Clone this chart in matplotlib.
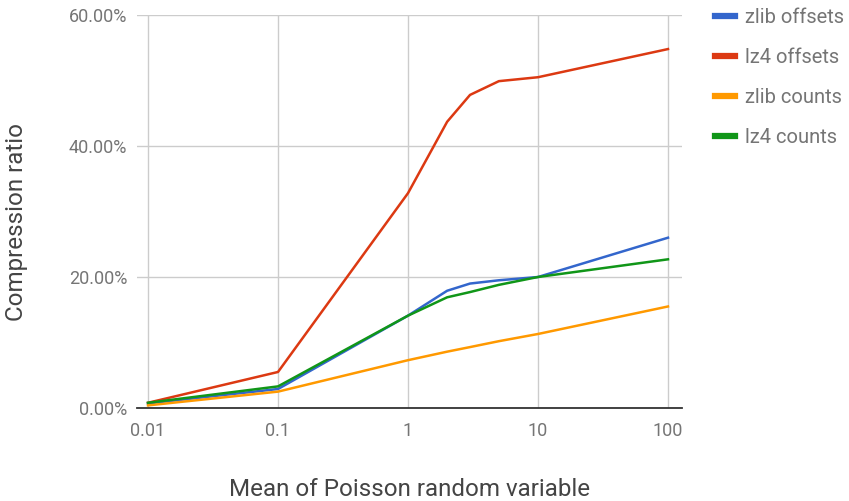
import numpy as np
import matplotlib.pyplot as plt
from matplotlib.ticker import FuncFormatter

plt.rcParams['font.family'] = ['Roboto', 'DejaVu Sans']

# mean of the Poisson variable
means = [0.01, 0.1, 1, 2, 3, 5, 10, 100]

# compression ratios (fraction)
zlib_offsets = [0.007, 0.029, 0.141, 0.179, 0.190, 0.195, 0.200, 0.260]
lz4_offsets = [0.008, 0.055, 0.328, 0.437, 0.478, 0.499, 0.505, 0.548]
zlib_counts = [0.004, 0.025, 0.073, 0.086, 0.093, 0.102, 0.113, 0.155]
lz4_counts = [0.008, 0.033, 0.141, 0.169, 0.177, 0.188, 0.200, 0.227]

series = [
    ("zlib offsets", zlib_offsets, "#3366cc"),
    ("lz4 offsets", lz4_offsets, "#dc3912"),
    ("zlib counts", zlib_counts, "#ff9900"),
    ("lz4 counts", lz4_counts, "#109618"),
]

W, H = 849, 501
fig = plt.figure(figsize=(W / 100, H / 100), dpi=100)
ax = fig.add_axes([137 / W, 93 / H, 545 / W, 393 / H])

for label, vals, color in series:
    ax.plot(means, vals, color=color, lw=1.8, label=label, solid_joinstyle='round')

ax.set_xscale('log')
ax.set_xlim(10 ** (-2 - 11 / 130), 10 ** (2 + 14 / 130))
ax.set_ylim(0, 0.6)
ax.set_xticks([0.01, 0.1, 1, 10, 100])
ax.set_xticklabels(["0.01", "0.1", "1", "10", "100"])
ax.minorticks_off()
ax.set_yticks([0, 0.2, 0.4, 0.6])
ax.yaxis.set_major_formatter(FuncFormatter(lambda v, p: f"{v * 100:.2f}%"))

ax.grid(True, color='#cccccc', lw=1)
ax.set_axisbelow(True)
for s in ['top', 'right', 'left']:
    ax.spines[s].set_visible(False)
ax.spines['bottom'].set_color('#333333')
ax.spines['bottom'].set_linewidth(1.3)
ax.spines['bottom'].set_zorder(3)

ax.tick_params(axis='both', length=0, labelsize=13, labelcolor='#757575')
ax.tick_params(axis='x', pad=10)
ax.tick_params(axis='y', pad=7)

# axis titles
fig.text(410 / W, 1 - 490 / H, "Mean of Poisson random variable", fontsize=17.4,
         color='#444444', ha='center', va='center')
fig.text(17 / W, 1 - 222 / H, "Compression ratio", fontsize=17.4, color='#444444',
         ha='center', va='center', rotation=90)

leg = fig.legend(loc='upper left', bbox_to_anchor=(715 / W, 1 - 8 / H), frameon=False,
                 borderpad=0, borderaxespad=0, handlelength=1.0, handletextpad=0.5,
                 labelspacing=1.05, fontsize=14.5, labelcolor='#757575')
for h in leg.get_lines():
    h.set_linewidth(4.5)

fig.savefig('out.png', dpi=100)
